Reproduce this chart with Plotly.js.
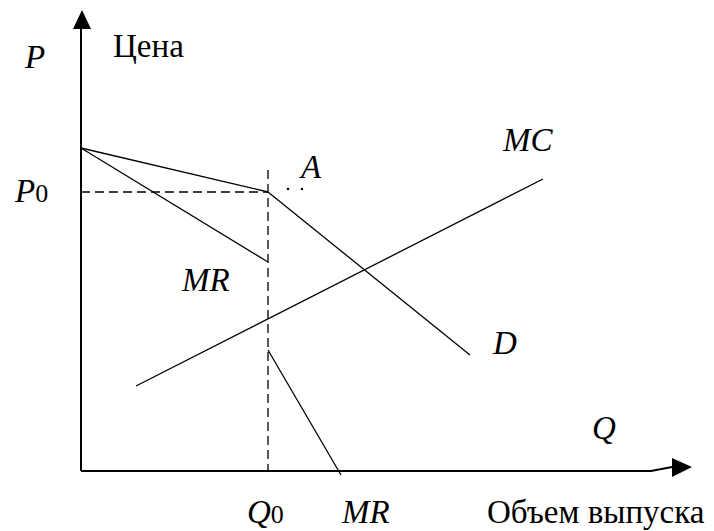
<!DOCTYPE html>
<html>
<head>
<meta charset="utf-8">
<script src="https://cdn.plot.ly/plotly-3.0.1.min.js"></script>
<style>html,body{margin:0;padding:0;background:#fff;}#chart{width:714px;height:531px;}</style>
</head>
<body>
<div id="chart"></div>
<script>
// Kinked demand curve (units: quantity Q, price P)
const Q0 = 187, P0 = 279;
const demandUpperQ = [0, 187], demandUpperP = [323, 279];
const demandLowerQ = [187, 389], demandLowerP = [279, 116];
const mrUpperQ = [0, 187], mrUpperP = [323, 209];
const mrLowerQ = [187, 260], mrLowerP = [121, -4];
const mcQ = [55, 462], mcP = [85, 292];
const p0LineQ = [0, 187], p0LineP = [279, 279];
const q0LineQ = [187, 187], q0LineP = [301, 0];
const dotsQ = [207, 221], dotsP = [282, 282];
const xAxisQ = [0, 570, 591], xAxisP = [0, 0, 4];
const yAxisQ = [0, 0], yAxisP = [0, 443];

const labels = [
  {text: '<i>P</i>', x: -47, y: 414},
  {text: 'Цена', x: 67, y: 425},
  {text: '<i>P</i><span style="font-size:26px">0</span>', x: -50, y: 280},
  {text: '<i>A</i>', x: 229, y: 304},
  {text: '<i>MC</i>', x: 446, y: 331},
  {text: '<i>MR</i>', x: 124, y: 191},
  {text: '<i>D</i>', x: 423, y: 128},
  {text: '<i>Q</i>', x: 523, y: 43},
  {text: '<i>Q</i><span style="font-size:26px">0</span>', x: 184, y: -41},
  {text: '<i>MR</i>', x: 284, y: -41},
  {text: 'Объем выпуска', x: 515, y: -41}
];

const FONT = '"Liberation Serif", "Times New Roman", serif';
const solid = {color: '#000', width: 1.3};
const dashed = {color: '#000', width: 1.3, dash: '9px,5px'};
function line(x, y, l) { return {x: x, y: y, mode: 'lines', line: l, hoverinfo: 'skip', showlegend: false}; }

const traces = [
  line(xAxisQ, xAxisP, {color: '#000', width: 2}),
  line(yAxisQ, yAxisP, {color: '#000', width: 2}),
  line(demandUpperQ, demandUpperP, solid),
  line(demandLowerQ, demandLowerP, solid),
  line(mrUpperQ, mrUpperP, solid),
  line(mrLowerQ, mrLowerP, solid),
  line(mcQ, mcP, solid),
  line(p0LineQ, p0LineP, dashed),
  line(q0LineQ, q0LineP, dashed),
  {x: dotsQ, y: dotsP, mode: 'markers', marker: {color: '#000', size: 2.5}, hoverinfo: 'skip', showlegend: false}
];

const layout = {
  width: 714, height: 531,
  margin: {l: 0, r: 0, t: 0, b: 0},
  paper_bgcolor: '#fff', plot_bgcolor: '#fff',
  xaxis: {range: [-81, 633], visible: false, fixedrange: true},
  yaxis: {range: [-60, 471], visible: false, fixedrange: true},
  font: {family: FONT, size: 33, color: '#000'},
  shapes: [
    {type: 'path', xref: 'x', yref: 'y', path: 'M -8,442 L 10,442 L 1,461 Z', fillcolor: '#000', line: {width: 0}},
    {type: 'path', xref: 'x', yref: 'y', path: 'M 591,13 L 611,4 L 591,-6 Z', fillcolor: '#000', line: {width: 0}}
  ],
  annotations: labels.map(l => ({
    text: l.text, x: l.x, y: l.y, xref: 'x', yref: 'y', showarrow: false,
    xanchor: 'center', yanchor: 'middle', font: {family: FONT, size: 33, color: '#000'}
  }))
};

Plotly.newPlot('chart', traces, layout, {staticPlot: true, displayModeBar: false});
</script>
</body>
</html>
